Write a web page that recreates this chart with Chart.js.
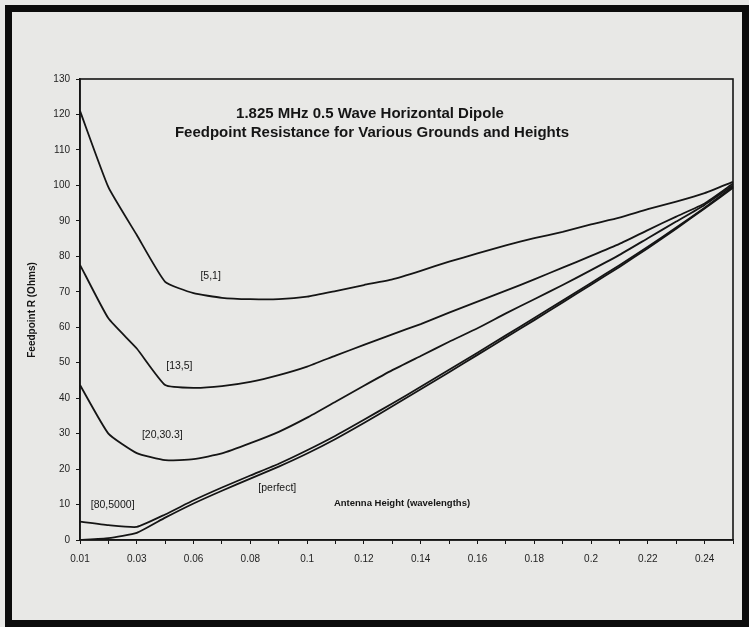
<!DOCTYPE html>
<html>
<head>
<meta charset="utf-8">
<script src="https://cdn.jsdelivr.net/npm/chart.js@4.4.1/dist/chart.umd.min.js"></script>
<style>
  html, body { margin: 0; padding: 0; background: #e8e8e6; }
  #wrap { width: 749px; height: 627px; }
</style>
</head>
<body>
<div id="wrap"><canvas id="chart" width="749" height="627"></canvas></div>
<script>
// antenna height in wavelengths (category axis, labels on every other one)
const heights = [0.01, 0.02, 0.03, 0.05, 0.06, 0.07, 0.08, 0.09, 0.1, 0.11, 0.12, 0.13,
                 0.14, 0.15, 0.16, 0.17, 0.18, 0.19, 0.2, 0.21, 0.22, 0.23, 0.24, 0.25];

// feedpoint R (ohms) for each ground [conductivity, dielectric]
const r5_1 =    [121, 99.5, 86, 72.8, 69.6, 68.3, 67.9, 67.9, 68.6, 70.2, 71.9, 73.5,
                 75.9, 78.5, 80.8, 83.1, 85.1, 86.9, 89.0, 90.9, 93.3, 95.4, 97.8, 101];
const r13_5 =   [77.6, 62.5, 54, 43.7, 42.9, 43.4, 44.6, 46.5, 48.9, 52, 55, 58,
                 60.9, 64.1, 67.2, 70.3, 73.5, 76.8, 80.1, 83.5, 87.4, 91.2, 94.9, 100.5];
const r20_30 =  [43.7, 30, 24.5, 22.5, 22.8, 24.4, 27.3, 30.5, 34.5, 39, 43.5, 47.9,
                 51.9, 55.9, 59.7, 63.9, 67.9, 71.9, 76.1, 80.4, 85.1, 89.8, 94.5, 100];
const r80_5000 = [5.2, 4.2, 3.7, 7.2, 11.2, 14.8, 18.2, 21.5, 25.3, 29.4, 33.9, 38.5,
                 43.2, 48, 52.8, 57.7, 62.6, 67.5, 72.5, 77.5, 82.7, 88.1, 93.7, 99.6];
const rPerfect = [0, 0.5, 2, 6.3, 10.3, 13.9, 17.3, 20.7, 24.4, 28.5, 33, 37.7,
                 42.5, 47.3, 52.2, 57.1, 62, 67, 72, 77, 82.3, 87.8, 93.5, 99.3];

const seriesNames = ['[5,1]', '[13,5]', '[20,30.3]', '[80,5000]', '[perfect]'];
// where each curve label sits: [category index, ohms]
const labelSpots = [[4.6, 74.4], [3.5, 49], [2.9, 29.6], [1.15, 9.9], [6.95, 14.7]];

const titleLines = ['1.825 MHz 0.5 Wave Horizontal Dipole',
                    'Feedpoint Resistance for Various Grounds and Heights'];

const ink = '#151515';
const face = '"Liberation Sans", Arial, sans-serif';

// page frame, plot box and all the free text
const decor = {
  id: 'decor',
  beforeDraw(chart) {
    const c = chart.ctx;
    c.save();
    c.fillStyle = '#e8e8e6';
    c.fillRect(0, 0, chart.width, chart.height);
    c.restore();
  },
  afterDraw(chart) {
    const c = chart.ctx;
    const a = chart.chartArea;
    const x = chart.scales.x, y = chart.scales.y;
    c.save();
    // outer black frame
    c.strokeStyle = '#0c0c0c';
    c.lineWidth = 7;
    c.strokeRect(8.5, 8.5, chart.width - 12, chart.height - 12);
    // plot box
    c.lineWidth = 1.6;
    c.strokeStyle = ink;
    c.strokeRect(a.left, a.top, a.right - a.left, a.bottom - a.top);

    c.fillStyle = ink;
    c.textAlign = 'center';
    c.textBaseline = 'middle';
    c.font = 'bold 15px ' + face;
    c.fillText(titleLines[0], 370, 114);
    c.fillText(titleLines[1], 372, 133);

    c.font = 'bold 9.5px ' + face;
    c.fillText('Antenna Height (wavelengths)', 402, 503);
    c.save();
    c.translate(32, 310);
    c.rotate(-Math.PI / 2);
    c.font = 'bold 10px ' + face;
    c.fillText('Feedpoint R (Ohms)', 0, 0);
    c.restore();

    c.font = '10.5px ' + face;
    seriesNames.forEach((n, i) => {
      const [idx, v] = labelSpots[i];
      c.fillText(n, x.getPixelForValue(idx), y.getPixelForValue(v));
    });
    c.restore();
  }
};

const lineDs = (label, data) => ({
  label, data,
  borderColor: ink, borderWidth: 1.8,
  pointRadius: 0, tension: 0.15, fill: false
});

new Chart(document.getElementById('chart').getContext('2d'), {
  type: 'line',
  data: {
    labels: heights.map(String),
    datasets: [
      lineDs(seriesNames[0], r5_1),
      lineDs(seriesNames[1], r13_5),
      lineDs(seriesNames[2], r20_30),
      lineDs(seriesNames[3], r80_5000),
      lineDs(seriesNames[4], rPerfect)
    ]
  },
  options: {
    responsive: false,
    animation: false,
    devicePixelRatio: 1,
    layout: { padding: { left: 0, top: 79, right: 16, bottom: 0 } },
    plugins: { legend: { display: false }, tooltip: { enabled: false } },
    scales: {
      x: {
        type: 'category',
        offset: false,
        afterFit(s) { s.height = 87; },
        grid: { drawOnChartArea: false, tickLength: 4, color: ink, lineWidth: 1 },
        border: { color: ink, width: 1.6 },
        ticks: {
          autoSkip: false, maxRotation: 0, padding: 9, color: '#1e1e1e',
          font: { family: face, size: 10 },
          callback(v, i) { return i % 2 === 0 ? this.getLabelForValue(v) : ''; }
        }
      },
      y: {
        min: 0, max: 130,
        afterFit(s) { s.width = 80; },
        grid: { drawOnChartArea: false, tickLength: 4, color: ink, lineWidth: 1 },
        border: { color: ink, width: 1.6 },
        ticks: {
          stepSize: 10, padding: 6, color: '#1e1e1e',
          font: { family: face, size: 10 }
        }
      }
    }
  },
  plugins: [decor]
});
</script>
</body>
</html>
